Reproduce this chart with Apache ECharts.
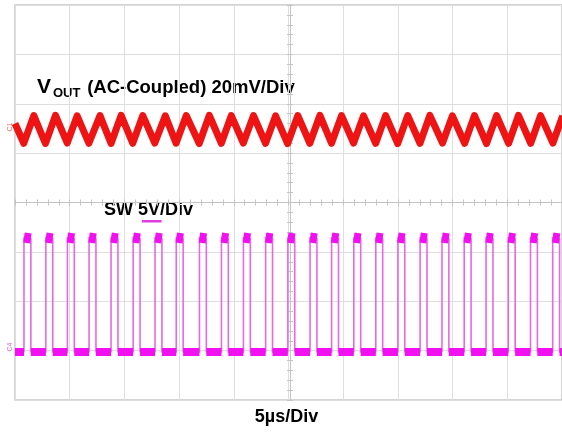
<!DOCTYPE html>
<html>
<head>
<meta charset="utf-8">
<script src="https://cdn.jsdelivr.net/npm/echarts@6/dist/echarts.min.js"></script>
<style>
html,body{margin:0;padding:0;background:#fff;}
#chart{width:562px;height:432px;}
</style>
</head>
<body>
<div id="chart"></div>
<script>
// ---- axes (time in µs, 5 µs/div; vertical in divisions) ----
const timeMin = 0, timeMax = 50, timeInterval = 5;
const divMin = -4, divMax = 4, divInterval = 1;
// VOUT channel: 20 mV/div, reference marker 1.5 div above centre
const voutAxisMin = -110, voutAxisMax = 50;
// SW channel: 5 V/div, ground marker 1 div above bottom
const swAxisMin = -5, swAxisMax = 35;

// ---- VOUT ripple (mV, AC-coupled) ----
const voutStart = [0, 2.0];
const voutDipT  = [0.80, 2.78, 4.77, 6.75, 8.78, 10.76, 12.78, 14.72, 16.84, 18.86, 20.87, 22.90, 24.92, 26.95, 28.93, 30.95, 32.97, 34.98, 37.02, 39.08, 41.10, 43.10, 45.12, 47.14, 49.17];
const voutDipV  = [-6.0, -6.1, -5.9, -6.0, -6.1, -6.0, -5.9, -6.0, -6.1, -6.0, -5.9, -6.0, -6.1, -6.0, -6.0, -5.9, -6.0, -6.1, -6.0, -5.9, -6.0, -6.1, -6.0, -6.0, -5.9];
const voutPeakT = [1.72, 3.70, 5.68, 7.77, 9.70, 11.68, 13.74, 15.65, 17.76, 19.77, 21.80, 23.82, 25.85, 27.87, 29.85, 31.86, 33.88, 35.90, 37.92, 39.98, 42.00, 44.02, 46.02, 48.04, 50.06];
const voutPeakV = [5.2, 5.3, 5.1, 5.2, 5.3, 5.2, 5.1, 5.2, 5.3, 5.2, 5.2, 5.1, 5.2, 5.3, 5.2, 5.1, 5.2, 5.2, 5.3, 5.1, 5.2, 5.2, 5.3, 5.2, 5.1];

// ---- SW node (V) ----
const swRise = [0.82, 2.82, 4.79, 6.77, 8.78, 10.80, 12.80, 14.74, 16.86, 18.87, 20.88, 22.91, 24.94, 26.97, 28.94, 30.97, 32.98, 35.00, 37.03, 39.03, 41.06, 43.06, 45.09, 47.12, 49.15];
const swFall = [1.45, 3.45, 5.42, 7.40, 9.41, 11.43, 13.43, 15.37, 17.49, 19.50, 21.51, 23.54, 25.57, 27.60, 29.57, 31.60, 33.61, 35.63, 37.66, 39.66, 41.69, 43.69, 45.72, 47.75, 49.78];
const swLow = -0.15;
const swHighStart = 11.45;
const swHighEnd = 11.35;
const trigMark = [[11.6, 13.1], [13.4, 13.1]];

// ---- build series data ----
const voutData = [voutStart];
for (let k = 0; k < voutDipT.length; k++) {
  voutData.push([voutDipT[k], voutDipV[k]]);
  voutData.push([voutPeakT[k], voutPeakV[k]]);
}
const swEdges = [[timeMin, swLow]];
const swHigh = [];
const swLowSeg = [[timeMin, swLow], [swRise[0], swLow], null];
for (let k = 0; k < swRise.length; k++) {
  swEdges.push([swRise[k], swLow], [swRise[k], swHighStart], [swFall[k], swHighEnd], [swFall[k], swLow]);
  swHigh.push([swRise[k], swHighStart], [swFall[k], swHighEnd], null);
  const next = k + 1 < swRise.length ? swRise[k + 1] : timeMax;
  swLowSeg.push([swFall[k], swLow], [next, swLow], null);
}
swEdges.push([timeMax, swLow]);

const FONT = 'Arial, "Liberation Sans", Helvetica, sans-serif';
const gridCol = '#dedede';
const centerCol = '#c4c4c4';

const chart = echarts.init(document.getElementById('chart'), null, {renderer: 'canvas'});
const hiddenX = {type: 'value', min: timeMin, max: timeMax, interval: timeInterval};
function centreX(inside, line) {
  return {type: 'value', min: timeMin, max: timeMax, interval: timeInterval, position: 'bottom', offset: -197.5,
    axisLine: {show: line, lineStyle: {color: centerCol, width: 1}},
    axisTick: {show: true, inside: inside, length: 3, lineStyle: {color: centerCol}},
    minorTick: {show: true, splitNumber: 5, length: 3, lineStyle: {color: centerCol}},
    axisLabel: {show: false}, splitLine: {show: false}};
}
function centreY(inside, line) {
  return {type: 'value', min: divMin, max: divMax, interval: divInterval, position: 'left', offset: -275,
    axisLine: {show: line, lineStyle: {color: centerCol, width: 1}},
    axisTick: {show: true, inside: inside, length: 3, lineStyle: {color: centerCol}},
    minorTick: {show: true, splitNumber: 5, length: 3, lineStyle: {color: centerCol}},
    axisLabel: {show: false}, splitLine: {show: false}};
}

chart.setOption({
  animation: false,
  backgroundColor: '#ffffff',
  grid: {left: 15, top: 5, width: 550, height: 395, show: true, borderColor: '#c6c6c6', borderWidth: 1.5, containLabel: false},
  xAxis: [
    Object.assign({}, hiddenX, {
      axisLine: {show: false}, axisTick: {show: false}, axisLabel: {show: false},
      splitLine: {show: true, lineStyle: {color: gridCol, width: 1}}
    }),
    centreX(true, true),
    centreX(false, false)
  ],
  yAxis: [
    {type: 'value', min: divMin, max: divMax, interval: divInterval,
      axisLine: {show: false}, axisTick: {show: false}, axisLabel: {show: false},
      splitLine: {show: true, lineStyle: {color: gridCol, width: 1}}},
    {type: 'value', min: voutAxisMin, max: voutAxisMax, show: false, splitLine: {show: false}},
    {type: 'value', min: swAxisMin, max: swAxisMax, show: false, splitLine: {show: false}},
    centreY(true, true),
    centreY(false, false)
  ],
  series: [
    {name: 'VOUT', type: 'line', xAxisIndex: 0, yAxisIndex: 1, data: voutData, showSymbol: false, silent: true,
      lineStyle: {color: '#ee1414', width: 7, join: 'round'}},
    {name: 'SW edges', type: 'line', xAxisIndex: 0, yAxisIndex: 2, data: swEdges, showSymbol: false, silent: true,
      lineStyle: {color: '#e46ae4', width: 1.6}},
    {name: 'SW high', type: 'line', xAxisIndex: 0, yAxisIndex: 2, data: swHigh, showSymbol: false, silent: true, connectNulls: false,
      lineStyle: {color: '#f010f0', width: 10, cap: 'butt'}},
    {name: 'SW low', type: 'line', xAxisIndex: 0, yAxisIndex: 2, data: swLowSeg, showSymbol: false, silent: true, connectNulls: false,
      lineStyle: {color: '#f010f0', width: 8, cap: 'butt'}},
    {name: 'trigger', type: 'line', xAxisIndex: 0, yAxisIndex: 2, data: trigMark, showSymbol: false, silent: true,
      lineStyle: {color: '#e040e0', width: 2.5}}
  ],
  graphic: [
    {type: 'text', style: {x: 37, y: 87.6, text: 'V', font: 'bold 21px ' + FONT, fill: '#000', verticalAlign: 'middle'}},
    {type: 'text', style: {x: 53, y: 93.4, text: 'OUT', font: 'bold 13px ' + FONT, fill: '#000', verticalAlign: 'middle'}},
    {type: 'text', style: {x: 82, y: 88.2, text: ' (AC-Coupled) 20mV/Div', font: 'bold 18.5px ' + FONT, fill: '#000', verticalAlign: 'middle'}},
    {type: 'text', style: {x: 104, y: 209.7, text: 'SW 5V/Div', font: 'bold 18px ' + FONT, fill: '#000', verticalAlign: 'middle'}},
    {type: 'text', style: {x: 286.5, y: 416.7, text: '5µs/Div', font: 'bold 18px ' + FONT, fill: '#000', align: 'center', verticalAlign: 'middle'}},
    {type: 'text', x: 10, y: 127, rotation: Math.PI / 2, style: {text: 'C1', font: '7px ' + FONT, fill: '#e07070', align: 'center', verticalAlign: 'middle'}},
    {type: 'text', x: 10, y: 347, rotation: Math.PI / 2, style: {text: 'C4', font: '7px ' + FONT, fill: '#d070d0', align: 'center', verticalAlign: 'middle'}}
  ]
});
</script>
</body>
</html>
